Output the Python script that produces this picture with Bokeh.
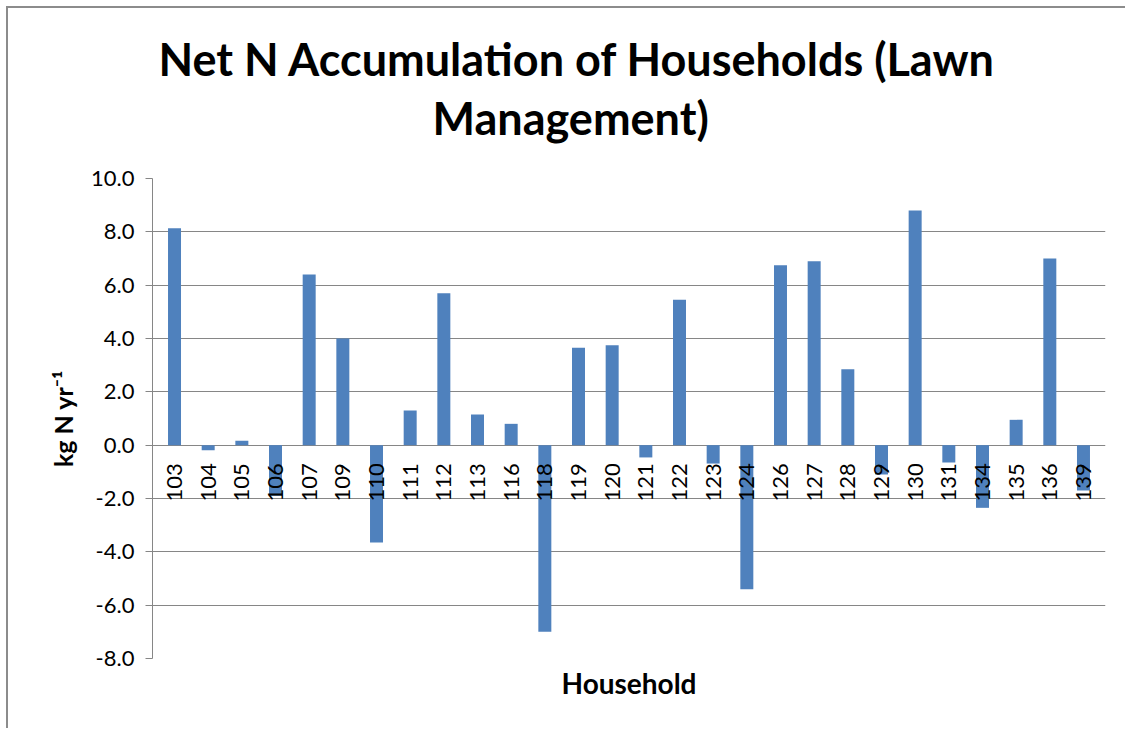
from math import pi
from bokeh.plotting import figure
from bokeh.models import FactorRange, Range1d, Title, NumeralTickFormatter, FixedTicker, ColumnDataSource
from bokeh.core.properties import value
from bokeh.embed import file_html
from bokeh.resources import INLINE

households = ["103", "104", "105", "106", "107", "109", "110", "111", "112", "113",
              "116", "118", "119", "120", "121", "122", "123", "124", "126", "127",
              "128", "129", "130", "131", "134", "135", "136", "139"]
net_n = [8.13, -0.19, 0.17, -1.9, 6.4, 4.0, -3.65, 1.3, 5.7, 1.15,
         0.8, -7.0, 3.65, 3.75, -0.46, 5.45, -0.69, -5.4, 6.75, 6.9,
         2.85, -1.1, 8.8, -0.65, -2.35, 0.95, 7.0, -1.7]
y_ticks = [-8, -6, -4, -2, 0, 2, 4, 6, 8, 10]
title_line1 = "Net N Accumulation of Households (Lawn"
title_line2 = "Management)"
x_label = "Household"
y_label = "kg N yr\u207b\u00b9"

FONT = "Lato"
GRAY = "#868686"

src = ColumnDataSource(dict(h=households, v=net_n))

p = figure(x_range=FactorRange(factors=households, range_padding=0.011),
           y_range=Range1d(min(y_ticks), max(y_ticks)),
           frame_width=953, frame_height=480,
           min_border_left=144, min_border_right=20,
           min_border_top=170, min_border_bottom=70,
           output_backend="svg", toolbar_location=None, title=None)

p.margin = (6, 0, 0, 6)
p.styles = {"border-left": "2px solid #8c8c8c", "border-top": "2px solid #8c8c8c"}

p.vbar(x="h", top="v", bottom=0, width=0.386, source=src,
       fill_color="#4F81BD", line_color=None)

p.text(x="h", y=0, text="h", source=src, angle=pi / 2,
       text_align="right", text_baseline="middle", y_offset=18,
       text_font=value(FONT), text_font_size="22px", text_color="black")

p.outline_line_color = None
p.xgrid.visible = False
p.ygrid.grid_line_color = GRAY
p.ygrid.grid_line_width = 1
p.ygrid.ticker = FixedTicker(ticks=y_ticks)

p.xaxis.visible = False

ya = p.yaxis[0]
ya.ticker = FixedTicker(ticks=y_ticks)
ya.formatter = NumeralTickFormatter(format="0.0")
ya.axis_line_color = GRAY
ya.major_tick_line_color = GRAY
ya.major_tick_out = 7
ya.major_tick_in = 0
ya.minor_tick_line_color = None
ya.major_label_standoff = 11
ya.major_label_text_font = FONT
ya.major_label_text_font_size = "22px"
ya.major_label_text_color = "black"
ya.axis_label = y_label
ya.axis_label_text_font = FONT
ya.axis_label_text_font_size = "25px"
ya.axis_label_text_font_style = "bold"
ya.axis_label_text_color = "black"
ya.axis_label_standoff = 10

p.add_layout(Title(text=title_line2, align="left", offset=280, text_font=FONT, text_font_size="45px",
                   text_font_style="bold", text_color="black", standoff=68), "above")
p.add_layout(Title(text=title_line1, align="left", offset=6, text_font=FONT, text_font_size="45px",
                   text_font_style="bold", text_color="black", standoff=-62), "above")
p.add_layout(Title(text=x_label, align="center", text_font=FONT, text_font_size="28px",
                   text_font_style="bold", text_color="black", standoff=10), "below")

open("out.html", "w").write(file_html(p, INLINE))
